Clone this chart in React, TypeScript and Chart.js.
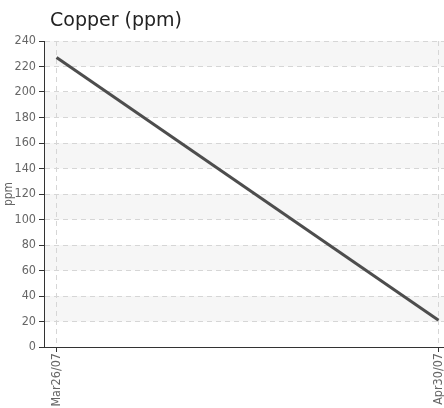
import { useEffect, useRef } from 'react';
import { Chart, registerables } from 'chart.js';

Chart.register(...registerables);

const chartTitle = 'Copper (ppm)';
const yAxisTitle = 'ppm';
const dayOffsets = [0, 35];
const dateLabels = ['Mar26/07', 'Apr30/07'];
const copperValues = [227, 21];
const yMin = 0;
const yMax = 240;
const yStep = 20;

const narrowFamily = '"Liberation Sans Narrow", "DejaVu Sans Condensed", "Liberation Sans", sans-serif';
const tickFont = { family: narrowFamily, size: 12.5 };

export default function App() {
  const ref = useRef<HTMLCanvasElement | null>(null);

  useEffect(() => {
    document.body.style.margin = '0';
    document.body.style.overflow = 'hidden';
    const canvas = ref.current;
    if (!canvas) return;

    const bandsPlugin = {
      id: 'bands',
      beforeDraw(chart: any) {
        const { ctx, chartArea, scales } = chart;
        const y = scales.y;
        ctx.save();
        ctx.fillStyle = '#f6f6f6';
        for (let v = yMin; v < yMax; v += yStep) {
          const idx = Math.round((v - yMin) / yStep);
          if (idx % 2 === 1) {
            const top = y.getPixelForValue(v + yStep);
            const bottom = y.getPixelForValue(v);
            ctx.fillRect(chartArea.left, top, chartArea.right - chartArea.left, bottom - top);
          }
        }
        ctx.restore();
      },
    };

    const titlePlugin = {
      id: 'leftTitle',
      afterDraw(chart: any) {
        const { ctx } = chart;
        ctx.save();
        ctx.font = '19px "DejaVu Sans", sans-serif';
        ctx.fillStyle = '#222';
        ctx.textAlign = 'left';
        ctx.textBaseline = 'alphabetic';
        ctx.fillText(chartTitle, 50, 26);
        ctx.restore();
      },
    };

    const chart = new Chart(canvas, {
      type: 'line',
      data: {
        datasets: [
          {
            data: dayOffsets.map((d, i) => ({ x: d, y: copperValues[i] })),
            borderColor: '#4d4d4d',
            borderWidth: 3,
            pointRadius: 0,
            tension: 0,
            fill: false,
          },
        ],
      },
      options: {
        animation: false,
        responsive: false,
        maintainAspectRatio: false,
        layout: { autoPadding: false, padding: { top: 41, right: 0, left: 0, bottom: 0 } },
        plugins: {
          legend: { display: false },
          title: { display: false },
          tooltip: { enabled: false },
        },
        scales: {
          x: {
            type: 'linear',
            min: -1.15,
            max: 35.5,
            afterBuildTicks(scale: any) {
              scale.ticks = dayOffsets.map((v) => ({ value: v }));
            },
            afterFit(scale: any) {
              scale.height = 61;
              scale.paddingLeft = 0;
              scale.paddingRight = 0;
            },
            ticks: {
              autoSkip: false,
              minRotation: 90,
              maxRotation: 90,
              color: '#666',
              font: tickFont,
              padding: 1,
              callback: (v: any) => {
                const i = dayOffsets.indexOf(Number(v));
                return i >= 0 ? dateLabels[i] : '';
              },
            },
            grid: {
              color: '#d6d6d6',
              tickColor: '#333',
              tickLength: 5,
              drawTicks: true,
            },
            border: { color: '#333', width: 1, dash: [5, 4] },
          },
          y: {
            min: yMin,
            max: yMax,
            afterFit(scale: any) {
              scale.width = 44;
              scale.paddingTop = 0;
              scale.paddingBottom = 0;
            },
            ticks: {
              stepSize: yStep,
              color: '#666',
              font: tickFont,
              padding: 3,
            },
            title: {
              display: true,
              text: yAxisTitle,
              color: '#666',
              font: { family: narrowFamily, size: 12 },
              padding: { top: 2, bottom: 0 },
            },
            grid: {
              color: '#d6d6d6',
              tickColor: '#333',
              tickLength: 5,
            },
            border: { color: '#333', width: 1, dash: [5, 4] },
          },
        },
      },
      plugins: [bandsPlugin, titlePlugin],
    });

    return () => chart.destroy();
  }, []);

  return <canvas ref={ref} width={444} height={408} style={{ display: 'block' }} />;
}
